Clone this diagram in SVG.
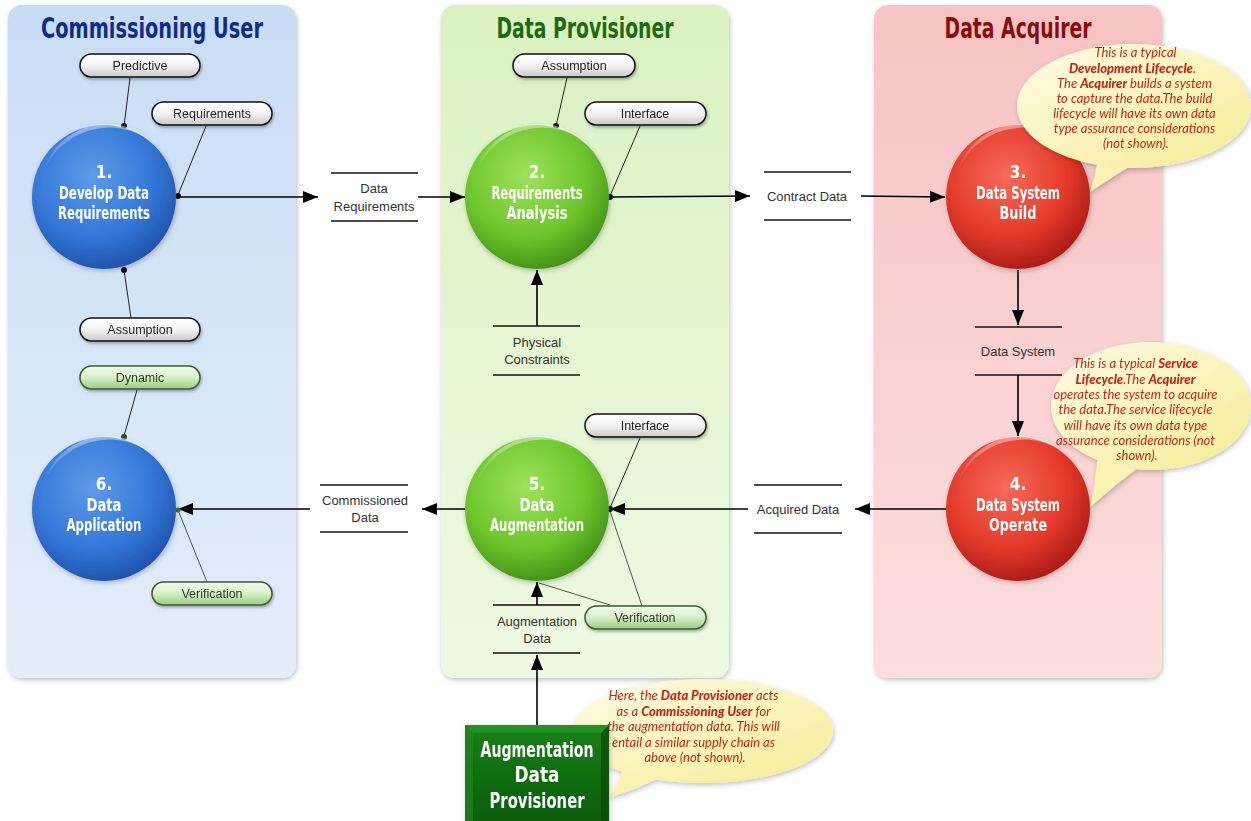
<svg xmlns="http://www.w3.org/2000/svg" width="1251" height="821" viewBox="0 0 1251 821">
<defs>
<style>
.title{font-family:"Liberation Sans Narrow","DejaVu Sans Condensed","Roboto",sans-serif;font-weight:bold;font-size:28px;text-anchor:middle}
.ctext{font-family:"Liberation Sans Narrow","DejaVu Sans Condensed","Roboto",sans-serif;font-weight:bold;font-size:17px;fill:#fff;text-anchor:middle}
.btext{font-family:"Liberation Sans Narrow","DejaVu Sans Condensed","Roboto",sans-serif;font-weight:bold;font-size:21px;fill:#fff;text-anchor:middle}
.store{font-family:"Liberation Sans","Helvetica",sans-serif;font-size:13px;fill:#333;text-anchor:middle}
.tag{font-family:"Liberation Sans","Helvetica",sans-serif;font-size:12.5px;fill:#222;text-anchor:middle}
.gtag{font-family:"Liberation Sans","Helvetica",sans-serif;font-size:12.5px;fill:#2f3a2a;text-anchor:middle}
.bub{font-family:"Lato","Open Sans",sans-serif;font-style:italic;font-size:13px;fill:#c4261b;text-anchor:middle}
.bub tspan.b{font-weight:900}
.sline{stroke:#111;stroke-width:1.5}
.conn{stroke:#000;stroke-width:1.6;fill:none}
.tline{stroke:#222;stroke-width:1;fill:none}
.gline{stroke:#555;stroke-width:1;fill:none}
.pill{fill:url(#gPill);stroke:#111;stroke-width:1.5}
.gpill{fill:url(#gGPill);stroke:#3c5a34;stroke-width:1.5}
</style>
<linearGradient id="gBlueLane" x1="0" y1="0" x2="0" y2="1"><stop offset="0" stop-color="#c8ddf5"/><stop offset="1" stop-color="#e4eefa"/></linearGradient>
<linearGradient id="gGreenLane" x1="0" y1="0" x2="0" y2="1"><stop offset="0" stop-color="#daf2c2"/><stop offset="1" stop-color="#eef9e2"/></linearGradient>
<linearGradient id="gRedLane" x1="0" y1="0" x2="0" y2="1"><stop offset="0" stop-color="#f7c3c3"/><stop offset="1" stop-color="#fbdede"/></linearGradient>
<radialGradient id="gBlue" cx="0.42" cy="0.35" r="0.7"><stop offset="0" stop-color="#5c9bea"/><stop offset="0.6" stop-color="#3478d8"/><stop offset="1" stop-color="#1c4ea6"/></radialGradient>
<radialGradient id="gGreen" cx="0.42" cy="0.35" r="0.7"><stop offset="0" stop-color="#9ee35a"/><stop offset="0.6" stop-color="#6ec62c"/><stop offset="1" stop-color="#3f8c14"/></radialGradient>
<radialGradient id="gRed" cx="0.42" cy="0.35" r="0.7"><stop offset="0" stop-color="#f86a58"/><stop offset="0.6" stop-color="#e33a2b"/><stop offset="1" stop-color="#a51711"/></radialGradient>
<linearGradient id="gHi" x1="0" y1="0" x2="0" y2="1"><stop offset="0" stop-color="#fff" stop-opacity="0.45"/><stop offset="1" stop-color="#fff" stop-opacity="0"/></linearGradient>
<linearGradient id="gPill" x1="0" y1="0" x2="0" y2="1"><stop offset="0" stop-color="#ffffff"/><stop offset="0.5" stop-color="#f4f4f4"/><stop offset="1" stop-color="#c9c9c9"/></linearGradient>
<linearGradient id="gGPill" x1="0" y1="0" x2="0" y2="1"><stop offset="0" stop-color="#f2fbec"/><stop offset="0.5" stop-color="#d6f0c8"/><stop offset="1" stop-color="#94cf7c"/></linearGradient>
<linearGradient id="gBub" x1="0" y1="0" x2="1" y2="1"><stop offset="0" stop-color="#fffce6"/><stop offset="1" stop-color="#f5ec95"/></linearGradient>
<linearGradient id="gBox" x1="0" y1="0" x2="0" y2="1"><stop offset="0" stop-color="#167f16"/><stop offset="1" stop-color="#0a5c0a"/></linearGradient>
<filter id="sh" x="-10%" y="-10%" width="130%" height="130%"><feDropShadow dx="1" dy="2" stdDeviation="2.5" flood-color="#000" flood-opacity="0.25"/></filter>
<filter id="shs" x="-10%" y="-20%" width="130%" height="160%"><feDropShadow dx="1" dy="2" stdDeviation="1.5" flood-color="#000" flood-opacity="0.3"/></filter>
<marker id="arr" markerUnits="userSpaceOnUse" markerWidth="16" markerHeight="12" refX="15" refY="6" orient="auto"><path d="M0,0 L15,6 L0,12 z" fill="#000"/></marker>
</defs>

<rect width="1251" height="821" fill="#fff"/>

<!-- Lanes -->
<g id="lane-commissioning-user">
<rect x="8" y="5" width="288" height="673" rx="14" fill="url(#gBlueLane)" filter="url(#sh)"/>
<text class="title" x="152" y="38" fill="#0d2c8c" textLength="222" lengthAdjust="spacingAndGlyphs">Commissioning User</text>
</g>
<g id="lane-data-provisioner">
<rect x="441" y="5" width="288" height="673" rx="14" fill="url(#gGreenLane)" filter="url(#sh)"/>
<text class="title" x="585" y="38" fill="#1d6b10" textLength="177" lengthAdjust="spacingAndGlyphs">Data Provisioner</text>
</g>
<g id="lane-data-acquirer">
<rect x="874" y="5" width="288" height="673" rx="14" fill="url(#gRedLane)" filter="url(#sh)"/>
<text class="title" x="1018" y="38" fill="#8a0c0c" textLength="147" lengthAdjust="spacingAndGlyphs">Data Acquirer</text>
</g>

<!-- Connectors -->
<g id="connectors">
<path class="conn" d="M178,197 L318,197" marker-end="url(#arr)"/>
<path class="conn" d="M418,197 L465,197" marker-end="url(#arr)"/>
<path class="conn" d="M610,197 L750,196" marker-end="url(#arr)"/>
<path class="conn" d="M861,196 L945,197" marker-end="url(#arr)"/>
<path class="conn" d="M1018,270 L1018,325" marker-end="url(#arr)"/>
<path class="conn" d="M1018,375 L1018,436" marker-end="url(#arr)"/>
<path class="conn" d="M946,509 L855,509" marker-end="url(#arr)"/>
<path class="conn" d="M748,509 L610,509" marker-end="url(#arr)"/>
<path class="conn" d="M465,509 L422,509" marker-end="url(#arr)"/>
<path class="conn" d="M310,509 L178,509" marker-end="url(#arr)"/>
<path class="conn" d="M537,326 L537,270" marker-end="url(#arr)"/>
<path class="conn" d="M537,605 L537,582" marker-end="url(#arr)"/>
<path class="conn" d="M537,725 L537,655" marker-end="url(#arr)"/>
<path class="tline" d="M130,78 L124,126"/>
<path class="tline" d="M206,126 L178,195"/>
<path class="tline" d="M131,318 L124,270"/>
<path class="tline" d="M137,390 L124,436" stroke="#2f4a2a"/>
<path class="gline" d="M207,582 L178,510"/>
<path class="tline" d="M567,78 L556,126"/>
<path class="tline" d="M640,126 L610,196"/>
<path class="tline" d="M640,438 L610,508"/>
<path class="gline" d="M642,606 L610,511"/>
<path class="gline" d="M610,605 L539,583"/>
<g fill="#111">
<circle cx="124" cy="126" r="3"/><circle cx="178" cy="196" r="3"/><circle cx="124" cy="270" r="3"/><circle cx="124" cy="437" r="3" fill="#2f4a2a"/><circle cx="178" cy="510" r="2.5" fill="#4a6a40"/>
<circle cx="556" cy="126" r="3"/><circle cx="610" cy="197" r="3"/><circle cx="610" cy="509" r="3"/>
</g>
</g>

<!-- Circles -->
<g id="node-1" filter="url(#sh)">
<circle cx="104" cy="197" r="72" fill="url(#gBlue)"/>
<path d="M44,170 A66,66 0 0 1 150,140 A72,72 0 0 0 44,170 z" fill="url(#gHi)"/>
<text class="ctext" x="104" y="178">1.</text>
<text class="ctext" x="104" y="199" textLength="90" lengthAdjust="spacingAndGlyphs">Develop Data</text>
<text class="ctext" x="104" y="219" textLength="92" lengthAdjust="spacingAndGlyphs">Requirements</text>
</g>
<g id="node-2" filter="url(#sh)">
<circle cx="537" cy="197" r="72" fill="url(#gGreen)"/>
<path d="M477,170 A66,66 0 0 1 583,140 A72,72 0 0 0 477,170 z" fill="url(#gHi)"/>
<text class="ctext" x="537" y="178">2.</text>
<text class="ctext" x="537" y="199" textLength="91" lengthAdjust="spacingAndGlyphs">Requirements</text>
<text class="ctext" x="537" y="219" textLength="61" lengthAdjust="spacingAndGlyphs">Analysis</text>
</g>
<g id="node-3" filter="url(#sh)">
<circle cx="1018" cy="197" r="72" fill="url(#gRed)"/>
<path d="M958,170 A66,66 0 0 1 1064,140 A72,72 0 0 0 958,170 z" fill="url(#gHi)"/>
<text class="ctext" x="1018" y="178">3.</text>
<text class="ctext" x="1018" y="199" textLength="84" lengthAdjust="spacingAndGlyphs">Data System</text>
<text class="ctext" x="1018" y="219" textLength="37" lengthAdjust="spacingAndGlyphs">Build</text>
</g>
<g id="node-6" filter="url(#sh)">
<circle cx="104" cy="509" r="72" fill="url(#gBlue)"/>
<path d="M44,482 A66,66 0 0 1 150,452 A72,72 0 0 0 44,482 z" fill="url(#gHi)"/>
<text class="ctext" x="104" y="490">6.</text>
<text class="ctext" x="104" y="511" textLength="35" lengthAdjust="spacingAndGlyphs">Data</text>
<text class="ctext" x="104" y="531" textLength="75" lengthAdjust="spacingAndGlyphs">Application</text>
</g>
<g id="node-5" filter="url(#sh)">
<circle cx="537" cy="509" r="72" fill="url(#gGreen)"/>
<path d="M477,482 A66,66 0 0 1 583,452 A72,72 0 0 0 477,482 z" fill="url(#gHi)"/>
<text class="ctext" x="537" y="490">5.</text>
<text class="ctext" x="537" y="511" textLength="35" lengthAdjust="spacingAndGlyphs">Data</text>
<text class="ctext" x="537" y="531" textLength="94" lengthAdjust="spacingAndGlyphs">Augmentation</text>
</g>
<g id="node-4" filter="url(#sh)">
<circle cx="1018" cy="509" r="72" fill="url(#gRed)"/>
<path d="M958,482 A66,66 0 0 1 1064,452 A72,72 0 0 0 958,482 z" fill="url(#gHi)"/>
<text class="ctext" x="1018" y="490">4.</text>
<text class="ctext" x="1018" y="511" textLength="84" lengthAdjust="spacingAndGlyphs">Data System</text>
<text class="ctext" x="1018" y="531" textLength="58" lengthAdjust="spacingAndGlyphs">Operate</text>
</g>

<!-- Data stores -->
<g id="store-data-requirements">
<line class="sline" x1="331" y1="173" x2="418" y2="173"/><line class="sline" x1="331" y1="221" x2="418" y2="221"/>
<text class="store" x="374" y="193">Data</text><text class="store" x="374" y="211">Requirements</text>
</g>
<g id="store-contract-data">
<line class="sline" x1="764" y1="172" x2="851" y2="172"/><line class="sline" x1="764" y1="220" x2="851" y2="220"/>
<text class="store" x="807" y="201">Contract Data</text>
</g>
<g id="store-data-system">
<line class="sline" x1="975" y1="327" x2="1062" y2="327"/><line class="sline" x1="975" y1="375" x2="1062" y2="375"/>
<text class="store" x="1018" y="356">Data System</text>
</g>
<g id="store-acquired-data">
<line class="sline" x1="754" y1="485" x2="842" y2="485"/><line class="sline" x1="754" y1="533" x2="842" y2="533"/>
<text class="store" x="798" y="514">Acquired Data</text>
</g>
<g id="store-commissioned-data">
<line class="sline" x1="320" y1="485" x2="408" y2="485"/><line class="sline" x1="320" y1="532" x2="408" y2="532"/>
<text class="store" x="365" y="505">Commissioned</text><text class="store" x="365" y="522">Data</text>
</g>
<g id="store-physical-constraints">
<line class="sline" x1="493" y1="326" x2="580" y2="326"/><line class="sline" x1="493" y1="375" x2="580" y2="375"/>
<text class="store" x="537" y="347">Physical</text><text class="store" x="537" y="364">Constraints</text>
</g>
<g id="store-augmentation-data">
<line class="sline" x1="493" y1="605" x2="580" y2="605"/><line class="sline" x1="493" y1="653" x2="580" y2="653"/>
<text class="store" x="537" y="626">Augmentation</text><text class="store" x="537" y="643">Data</text>
</g>

<!-- Tags -->
<g id="tag-predictive" filter="url(#shs)"><rect class="pill" x="80" y="54" width="120" height="23" rx="11.5"/><text class="tag" x="140" y="70">Predictive</text></g>
<g id="tag-requirements" filter="url(#shs)"><rect class="pill" x="152" y="102" width="120" height="23" rx="11.5"/><text class="tag" x="212" y="118">Requirements</text></g>
<g id="tag-assumption-1" filter="url(#shs)"><rect class="pill" x="80" y="318" width="120" height="23" rx="11.5"/><text class="tag" x="140" y="334">Assumption</text></g>
<g id="tag-dynamic" filter="url(#shs)"><rect class="gpill" x="80" y="366" width="120" height="23" rx="11.5"/><text class="gtag" x="140" y="382">Dynamic</text></g>
<g id="tag-verification-1" filter="url(#shs)"><rect class="gpill" x="152" y="582" width="120" height="23" rx="11.5"/><text class="gtag" x="212" y="598">Verification</text></g>
<g id="tag-assumption-2" filter="url(#shs)"><rect class="pill" x="513" y="54" width="122" height="23" rx="11.5"/><text class="tag" x="574" y="70">Assumption</text></g>
<g id="tag-interface-1" filter="url(#shs)"><rect class="pill" x="585" y="102" width="121" height="23" rx="11.5"/><text class="tag" x="645" y="118">Interface</text></g>
<g id="tag-interface-2" filter="url(#shs)"><rect class="pill" x="585" y="414" width="121" height="23" rx="11.5"/><text class="tag" x="645" y="430">Interface</text></g>
<g id="tag-verification-2" filter="url(#shs)"><rect class="gpill" x="585" y="606" width="121" height="23" rx="11.5"/><text class="gtag" x="645" y="622">Verification</text></g>

<!-- Speech bubbles -->
<g id="bubble-development" filter="url(#sh)">
<path d="M1100,150 Q1095,175 1090,192 Q1115,175 1140,160 z" fill="#f9f2b0"/>
<ellipse cx="1134" cy="106" rx="117" ry="62" fill="url(#gBub)"/>
<text class="bub">
<tspan x="1137" y="57">This is a typical</tspan>
<tspan x="1134" y="72.5"><tspan class="b">Development Lifecycle</tspan>.</tspan>
<tspan x="1136" y="88">The <tspan class="b">Acquirer</tspan> builds a system</tspan>
<tspan x="1136" y="103">to capture the data.The build</tspan>
<tspan x="1136" y="118">lifecycle will have its own data</tspan>
<tspan x="1136" y="133">type assurance considerations</tspan>
<tspan x="1136" y="148">(not shown).</tspan>
</text>
</g>
<g id="bubble-service" filter="url(#sh)">
<path d="M1098,455 Q1095,485 1090,507 Q1115,485 1140,466 z" fill="#f9f2b0"/>
<ellipse cx="1151" cy="406" rx="100" ry="64" fill="url(#gBub)"/>
<text class="bub">
<tspan x="1137" y="368"><tspan>This is a typical </tspan><tspan class="b">Service</tspan></tspan>
<tspan x="1137" y="383.5"><tspan class="b">Lifecycle</tspan>.The <tspan class="b">Acquirer</tspan></tspan>
<tspan x="1137" y="399">operates the system to acquire</tspan>
<tspan x="1137" y="414">the data.The service lifecycle</tspan>
<tspan x="1137" y="429.5">will have its own data type</tspan>
<tspan x="1137" y="445">assurance considerations (not</tspan>
<tspan x="1137" y="460">shown).</tspan>
</text>
</g>
<g id="bubble-augmentation" filter="url(#sh)">
<path d="M625,760 Q620,785 608,798 Q640,788 665,775 z" fill="#f9f2b0"/>
<ellipse cx="703" cy="731" rx="130" ry="52" fill="url(#gBub)"/>
<text class="bub">
<tspan x="695" y="700">Here, the <tspan class="b">Data Provisioner</tspan> acts</tspan>
<tspan x="695" y="716">as a <tspan class="b">Commissioning User</tspan> for</tspan>
<tspan x="695" y="731">the augmentation data. This will</tspan>
<tspan x="695" y="747">entail a similar supply chain as</tspan>
<tspan x="695" y="762">above (not shown).</tspan>
</text>
</g>

<!-- Augmentation Data Provisioner box -->
<g id="node-augmentation-data-provisioner" filter="url(#sh)">
<rect x="465" y="725" width="144" height="100" fill="url(#gBox)"/>
<path d="M465,725 L609,725 L601,733 L473,733 z" fill="#2a9a2a" opacity="0.7"/>
<path d="M465,725 L473,733 L473,821 L465,821 z" fill="#1f8a1f" opacity="0.6"/>
<path d="M609,725 L601,733 L601,821 L609,821 z" fill="#064006" opacity="0.6"/>
<text class="btext" x="537" y="757" textLength="113" lengthAdjust="spacingAndGlyphs">Augmentation</text>
<text class="btext" x="537" y="782" textLength="45" lengthAdjust="spacingAndGlyphs">Data</text>
<text class="btext" x="537" y="808" textLength="95" lengthAdjust="spacingAndGlyphs">Provisioner</text>
</g>
</svg>
